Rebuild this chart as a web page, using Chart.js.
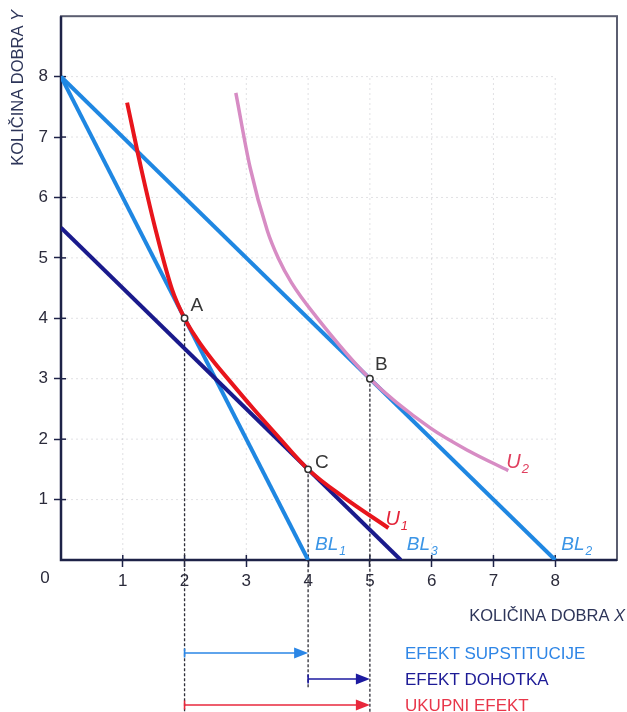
<!doctype html>
<html lang="hr">
<head>
<meta charset="utf-8">
<title>Efekt supstitucije i efekt dohotka</title>
<script src="https://cdn.jsdelivr.net/npm/chart.js@4.4.1/dist/chart.umd.min.js"></script>
<style>
  html, body { margin: 0; padding: 0; background: #fff; }
  #wrap { width: 627px; height: 712px; position: relative; }
</style>
</head>
<body>
<div id="wrap"><canvas id="graf"></canvas></div>
<script>
  // budzetske linije
  const bl1X = [0, 4];
  const bl1Y = [8, 0];
  const bl2X = [0, 8];
  const bl2Y = [8, 0];
  const bl3X = [0, 5.5];
  const bl3Y = [5.5, 0];

  // krivulje indiferencije (ocitano sa slike)
  const u1X = [1.07, 1.3, 1.55, 1.8, 2.0, 2.2, 2.45, 2.75, 3.1, 3.5, 4.0, 4.6, 5.3];
  const u1Y = [7.57, 6.47, 5.39, 4.47, 4.0, 3.66, 3.31, 2.94, 2.52, 2.06, 1.5, 1.02, 0.53];
  const u2X = [2.83, 3.06, 3.34, 3.52, 3.73, 4.12, 5.0, 5.97, 6.61, 7.24];
  const u2Y = [7.73, 6.5, 5.45, 4.99, 4.59, 4.04, 3.0, 2.19, 1.8, 1.48];

  // tocke A, B, C
  const pointNames = ['A', 'B', 'C'];
  const pointX = [2, 5, 4];
  const pointY = [4, 3, 1.5];

  const xTicks = [1, 2, 3, 4, 5, 6, 7, 8];
  const yTicks = [1, 2, 3, 4, 5, 6, 7, 8];

  // efekti (od, do po osi X)
  const effectNames = ['EFEKT SUPSTITUCIJE', 'EFEKT DOHOTKA', 'UKUPNI EFEKT'];
  const effectFrom = [2, 4, 2];
  const effectTo = [4, 5, 5];

  const FONT = "'Liberation Sans', Arial, sans-serif";
  const LIGHT = '#1f87e2';
  const NAVY = '#1a1a8c';
  const RED = '#e8151c';
  const PINK = '#d78cc4';

  const toXY = (xs, ys) => xs.map((x, i) => ({ x: x, y: ys[i] }));

  function line(ctx, x1, y1, x2, y2) {
    ctx.beginPath();
    ctx.moveTo(x1, y1);
    ctx.lineTo(x2, y2);
    ctx.stroke();
  }

  function subLabel(ctx, main, sub, x, y, size, color) {
    ctx.fillStyle = color;
    ctx.textAlign = 'left';
    ctx.textBaseline = 'alphabetic';
    ctx.font = 'italic ' + size + 'px ' + FONT;
    ctx.fillText(main, x, y);
    const w = ctx.measureText(main).width;
    ctx.font = 'italic ' + Math.round(size * 0.65) + 'px ' + FONT;
    ctx.fillText(sub, x + w + 1, y + 5);
  }

  const extras = {
    id: 'extras',
    beforeDatasetsDraw(chart) {
      const { ctx, chartArea: a, scales: { x, y } } = chart;
      ctx.save();
      // tockasta mreza
      ctx.strokeStyle = 'rgba(70,70,90,0.16)';
      ctx.lineWidth = 1;
      ctx.setLineDash([2, 3]);
      xTicks.forEach(v => {
        const px = x.getPixelForValue(v);
        line(ctx, px, a.bottom, px, y.getPixelForValue(8));
      });
      yTicks.forEach(v => {
        const py = y.getPixelForValue(v);
        line(ctx, a.left, py, x.getPixelForValue(8), py);
      });

      // okvir
      ctx.setLineDash([]);
      ctx.strokeStyle = '#5b5e70';
      ctx.lineWidth = 2;
      ctx.strokeRect(a.left, a.top, a.width, a.height);
      ctx.strokeStyle = '#1d2247';
      ctx.lineWidth = 2.5;
      ctx.beginPath();
      ctx.moveTo(a.left, a.top);
      ctx.lineTo(a.left, a.bottom);
      ctx.lineTo(a.right, a.bottom);
      ctx.stroke();

      // unutarnji dio crtica
      ctx.lineWidth = 1.5;
      xTicks.forEach(v => {
        const px = x.getPixelForValue(v);
        line(ctx, px, a.bottom, px, a.bottom - 5);
      });
      yTicks.forEach(v => {
        const py = y.getPixelForValue(v);
        line(ctx, a.left, py, a.left + 5, py);
      });

      // isprekidane okomice iz A, B, C
      const ends = [712, 712, 688];
      ctx.strokeStyle = '#2e2e38';
      ctx.lineWidth = 1.3;
      ctx.setLineDash([3, 2]);
      pointX.forEach((v, i) => {
        const px = x.getPixelForValue(v);
        line(ctx, px, y.getPixelForValue(pointY[i]), px, ends[i]);
      });
      ctx.restore();
    },
    afterDraw(chart) {
      const { ctx, chartArea: a, scales: { x, y } } = chart;
      ctx.save();

      // oznake tocaka
      const offs = [[6, -13], [5, -14], [7, -7]];
      ctx.font = '19px ' + FONT;
      ctx.fillStyle = '#363636';
      ctx.textAlign = 'left';
      ctx.textBaseline = 'middle';
      pointNames.forEach((n, i) => {
        ctx.fillText(n, x.getPixelForValue(pointX[i]) + offs[i][0], y.getPixelForValue(pointY[i]) + offs[i][1]);
      });

      // U1, U2
      const u1e = u1X.length - 1, u2e = u2X.length - 1;
      subLabel(ctx, 'U', '1', x.getPixelForValue(u1X[u1e]) - 3, y.getPixelForValue(u1Y[u1e]) - 3, 20, '#e3253a');
      subLabel(ctx, 'U', '2', x.getPixelForValue(u2X[u2e]) - 2, y.getPixelForValue(u2Y[u2e]) - 3, 20, '#e03e5e');

      // BL1, BL3, BL2
      const blc = '#3b95e6';
      subLabel(ctx, 'BL', '1', x.getPixelForValue(bl1X[1]) + 7, a.bottom - 10, 19, blc);
      subLabel(ctx, 'BL', '3', x.getPixelForValue(bl3X[1]) + 6, a.bottom - 10, 19, blc);
      subLabel(ctx, 'BL', '2', x.getPixelForValue(bl2X[1]) + 6, a.bottom - 10, 19, blc);

      // ishodiste
      ctx.font = '17px ' + FONT;
      ctx.fillStyle = '#2b2b3b';
      ctx.textAlign = 'center';
      ctx.textBaseline = 'middle';
      ctx.fillText('0', a.left - 16, 578);

      // naslovi osi
      ctx.fillStyle = '#2d3559';
      ctx.textAlign = 'right';
      ctx.textBaseline = 'middle';
      ctx.font = 'italic 16.5px ' + FONT;
      const xw = ctx.measureText('X').width;
      ctx.fillText('X', 625, 616);
      ctx.font = '16.5px ' + FONT;
      ctx.fillText('KOLIČINA DOBRA ', 625 - xw, 616);

      ctx.save();
      ctx.translate(18, 10);
      ctx.rotate(-Math.PI / 2);
      ctx.textAlign = 'right';
      ctx.font = 'italic 16.5px ' + FONT;
      const yw = ctx.measureText('Y').width;
      ctx.fillText('Y', 0, 0);
      ctx.font = '16.5px ' + FONT;
      ctx.fillText('KOLIČINA DOBRA ', -yw, 0);
      ctx.restore();

      // strelice efekata
      const rows = [653, 679, 705];
      const cols = ['#2a86e6', '#1c1aa0', '#e8283c'];
      const txtCols = ['#2f86e6', '#1d1b96', '#e8364a'];
      effectNames.forEach((n, i) => {
        const x1 = x.getPixelForValue(effectFrom[i]);
        const x2 = x.getPixelForValue(effectTo[i]);
        const yy = rows[i];
        ctx.strokeStyle = cols[i];
        ctx.fillStyle = cols[i];
        ctx.lineWidth = 1.6;
        line(ctx, x1, yy - 4.5, x1, yy + 4.5);
        line(ctx, x1, yy, x2 - 12, yy);
        ctx.beginPath();
        ctx.moveTo(x2, yy);
        ctx.lineTo(x2 - 14, yy - 5.5);
        ctx.lineTo(x2 - 14, yy + 5.5);
        ctx.closePath();
        ctx.fill();

        ctx.font = '17px ' + FONT;
        ctx.fillStyle = txtCols[i];
        ctx.textAlign = 'left';
        ctx.textBaseline = 'middle';
        ctx.fillText(n, 405, yy + 1);
      });
      ctx.restore();
    }
  };

  const lineSet = (xs, ys, color, width, extra) => Object.assign({
    data: toXY(xs, ys),
    showLine: true,
    borderColor: color,
    borderWidth: width,
    pointRadius: 0,
    fill: false,
    borderCapStyle: 'butt'
  }, extra || {});

  new Chart(document.getElementById('graf'), {
    type: 'scatter',
    data: {
      datasets: [
        {
          data: toXY(pointX, pointY),
          pointRadius: 3.2,
          pointBackgroundColor: '#fff',
          pointBorderColor: '#333',
          pointBorderWidth: 1.5,
          showLine: false
        },
        lineSet(u1X, u1Y, RED, 4, { cubicInterpolationMode: 'monotone' }),
        lineSet(u2X, u2Y, PINK, 3.5, { cubicInterpolationMode: 'monotone' }),
        lineSet(bl3X, bl3Y, NAVY, 4),
        lineSet(bl2X, bl2Y, LIGHT, 4),
        lineSet(bl1X, bl1Y, LIGHT, 4)
      ]
    },
    options: {
      responsive: true,
      maintainAspectRatio: false,
      animation: false,
      layout: { padding: { left: 0, top: 11, right: 10, bottom: 0 } },
      plugins: { legend: { display: false }, tooltip: { enabled: false } },
      scales: {
        x: {
          type: 'linear',
          min: 0,
          max: 9,
          afterBuildTicks: s => { s.ticks = xTicks.map(v => ({ value: v })); },
          afterFit: s => { s.height = 152; },
          border: { display: false },
          grid: { drawOnChartArea: false, tickLength: 7, tickColor: '#1d2247', tickWidth: 1.5 },
          ticks: { color: '#2b2b3b', padding: 4, font: { family: FONT, size: 17 } }
        },
        y: {
          type: 'linear',
          min: 0,
          max: 9,
          afterBuildTicks: s => { s.ticks = yTicks.map(v => ({ value: v })); },
          afterFit: s => { s.width = 61; },
          border: { display: false },
          grid: { drawOnChartArea: false, tickLength: 7, tickColor: '#1d2247', tickWidth: 1.5 },
          ticks: { color: '#2b2b3b', padding: 6, font: { family: FONT, size: 17 } }
        }
      }
    },
    plugins: [extras]
  });
</script>
</body>
</html>
